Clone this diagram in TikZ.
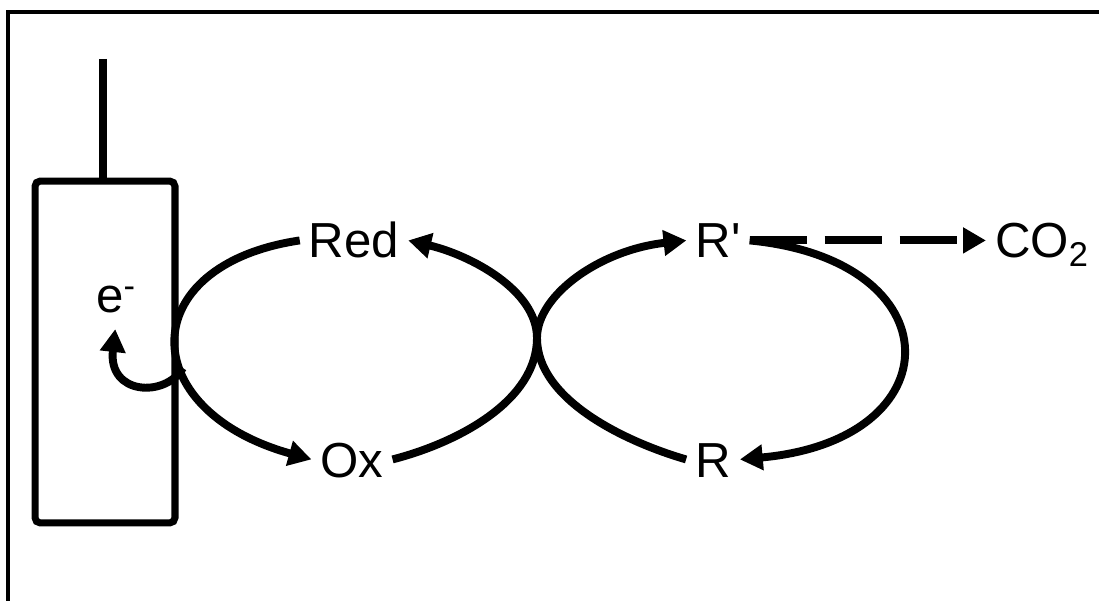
\documentclass[tikz,border=0pt]{standalone}
\usepackage{fontspec}
\setmainfont{Liberation Sans}
\usepackage{tikz}
\usetikzlibrary{arrows.meta, positioning}
\tikzstyle{species} = [inner sep=5pt, text height=20pt, text depth=0pt, font=\fontsize{28}{34}\selectfont]
\tikzstyle{flow} = [line width=4.5pt, -{Triangle[length=13pt, width=14pt]}]

\begin{document}
\begin{tikzpicture}[x=0.02cm, y=-0.02cm]
    \useasboundingbox (0,0) rectangle (1099,601);
    % Frame
    \draw[line width=2.3pt] (1099,12) -- (8,12) -- (8,601);

    % Electrode
    \node (electrode) [draw, line width=4pt, rounded corners=3pt, minimum width=2.8cm, minimum height=6.84cm] at (105,352) {};
    \coordinate (lead) at (103,59);
    \draw[line width=5pt] (lead) -- (lead |- electrode.north);

    % Species
    \node (red) [species, anchor=base] at (354,258) {Red};
    \node (ox) [species, anchor=base] at (352,477) {Ox};
    \node (rp) [species, anchor=base] at (718,258) {R\textquotesingle};
    \node (r) [species, anchor=base] at (713,477) {R};
    \node (co2) [species, anchor=base] at (1042,258) {CO\textsubscript{2}};
    \node (e) [species, anchor=base] at (116,313) {e\textsuperscript{-}};
    \coordinate (touch) at (537,338);

    % Electron transfer at the electrode
    \draw[flow] (red.west) .. controls (134,265) and (134,410) .. (ox.west) coordinate[pos=0.6] (etr);
    \draw[flow, shorten >=4pt] (etr) .. controls (165,398) and (108,395) .. (e.south);

    % Catalytic cycle
    \draw[flow] (ox.east) .. controls (460,442) and (537,400) .. (touch) .. controls (537,290) and (470,255) .. (red.east);
    \draw[flow] (r.west) .. controls (626,442) and (537,400) .. (touch) .. controls (537,295) and (600,250) .. (rp.west);
    \draw[flow] (rp.east) .. controls (955,260) and (955,440) .. (r.east);
    \draw[flow, dash pattern=on 1.14cm off 0.36cm] (rp.east) -- (co2.west);
\end{tikzpicture}
\end{document}
